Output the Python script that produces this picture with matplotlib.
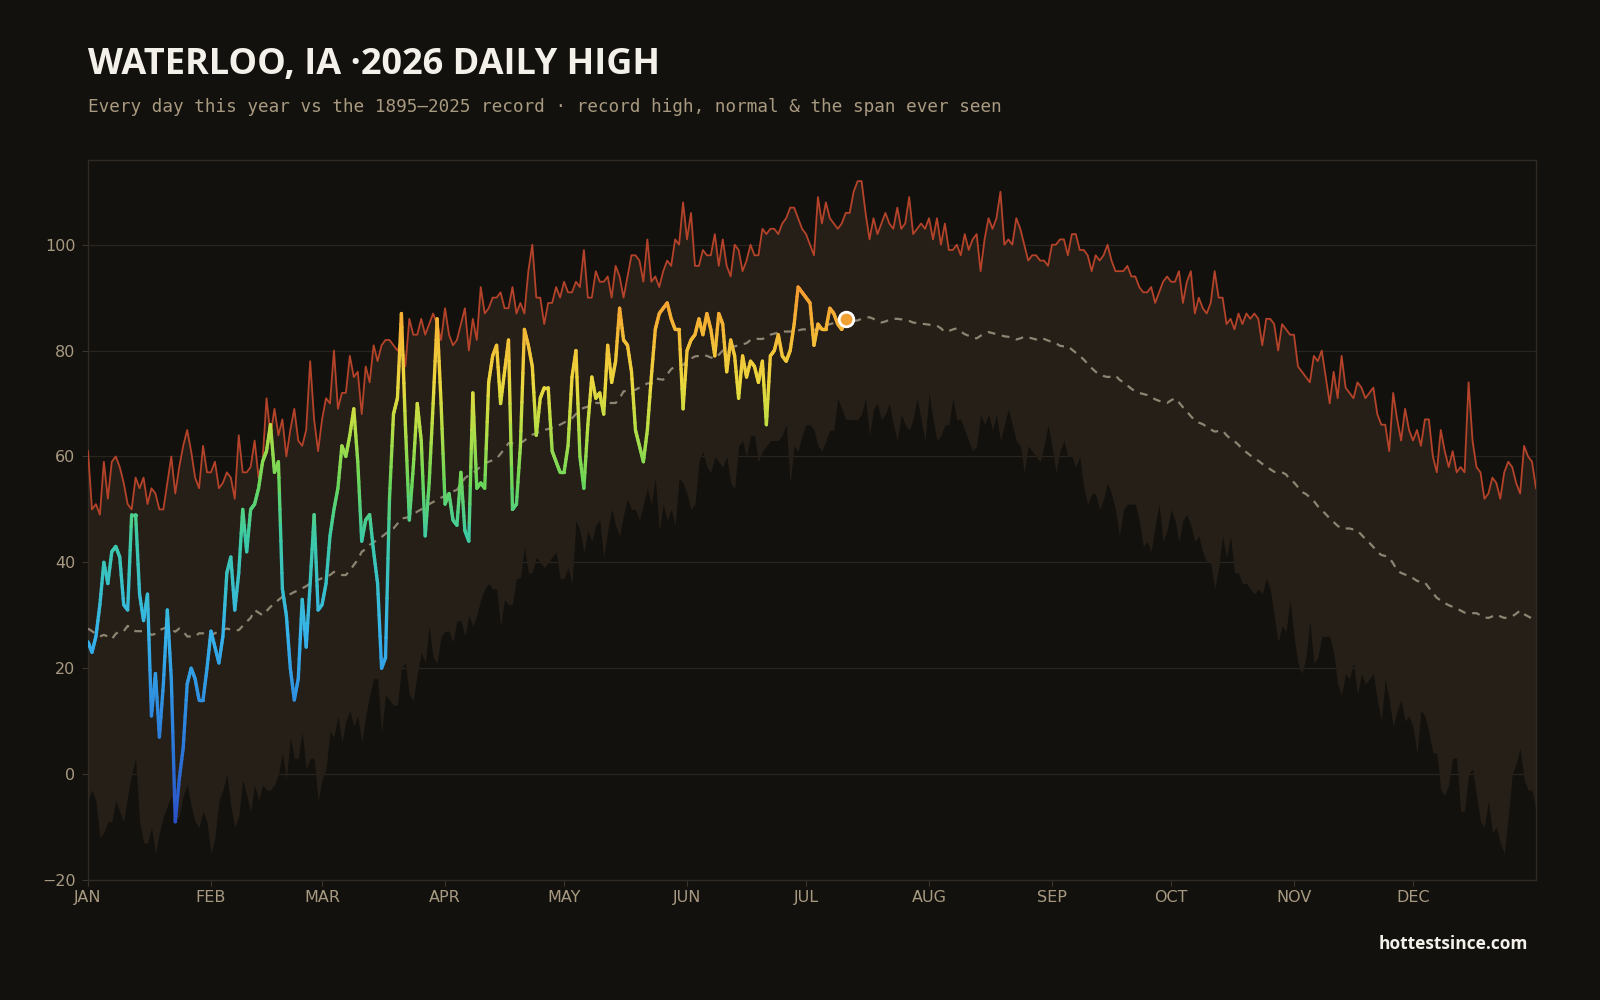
import numpy as np
import matplotlib
matplotlib.use("agg")
import matplotlib.pyplot as plt
from matplotlib.collections import LineCollection
from matplotlib.colors import LinearSegmentedColormap

# record high for each day of year (F)
record_high = [
    61, 50, 51, 49, 59, 52, 59, 60, 58, 55, 51, 50, 56, 54, 56, 51, 54, 53, 50, 50,
    55, 60, 53, 58, 62, 65, 61, 56, 54, 62, 57, 57, 59, 54, 55, 57, 56, 52, 64, 57,
    57, 58, 63, 56, 59, 71, 64, 69, 64, 67, 60, 65, 69, 63, 62, 65, 78, 67, 61, 67,
    71, 70, 80, 69, 72, 72, 79, 75, 76, 68, 77, 74, 81, 78, 81, 82, 82, 81, 80, 82,
    77, 86, 83, 83, 86, 83, 85, 87, 85, 82, 88, 83, 81, 82, 85, 88, 80, 86, 82, 92,
    87, 88, 90, 90, 91, 88, 88, 92, 87, 89, 87, 95, 100, 90, 90, 85, 89, 89, 92, 90,
    93, 91, 91, 93, 92, 99, 90, 90, 95, 93, 93, 94, 90, 96, 94, 90, 94, 98, 98, 97,
    93, 101, 93, 94, 92, 95, 97, 96, 101, 100, 108, 101, 106, 96, 96, 99, 98, 98, 102, 96,
    101, 96, 94, 100, 99, 95, 97, 100, 98, 98, 103, 102, 103, 103, 102, 104, 105, 107, 107, 105,
    103, 102, 100, 98, 109, 104, 108, 105, 104, 103, 104, 106, 106, 110, 112, 112, 106, 101, 105, 102,
    104, 106, 104, 103, 107, 103, 104, 109, 102, 103, 104, 103, 105, 101, 105, 100, 104, 99, 99, 100,
    98, 102, 99, 101, 102, 95, 101, 105, 103, 105, 110, 100, 101, 100, 105, 103, 100, 97, 98, 98,
    97, 97, 96, 100, 100, 101, 101, 98, 102, 102, 99, 99, 98, 95, 98, 97, 98, 100, 97, 95,
    95, 95, 96, 94, 94, 92, 91, 91, 92, 89, 91, 93, 94, 93, 93, 95, 89, 93, 95, 87,
    90, 88, 87, 89, 95, 90, 90, 85, 86, 84, 87, 85, 87, 86, 87, 86, 81, 86, 86, 85,
    80, 85, 84, 83, 83, 77, 76, 75, 74, 79, 78, 80, 75, 70, 76, 71, 79, 73, 72, 71,
    74, 73, 71, 72, 73, 68, 66, 66, 61, 72, 67, 63, 69, 65, 63, 65, 62, 67, 67, 60,
    57, 65, 61, 58, 61, 57, 58, 57, 74, 63, 58, 57, 52, 53, 56, 55, 52, 57, 59, 58,
    55, 53, 62, 60, 59, 54,
]

# lowest daily high ever seen (bottom of the span)
record_low = [
    -5, -3, -5, -12, -11, -9, -9, -5, -7, -9, -4, 0, 3, -9, -13, -13, -10, -15, -11, -8,
    -6, -4, -9, -8, -4, -2, -6, -9, -10, -7, -9, -15, -12, -5, -3, 0, -6, -10, -8, -1,
    -4, -7, -2, -5, -2, -3, -3, -2, 0, 4, -1, 7, 3, 3, 8, 1, 3, 3, -5, -1,
    1, 8, 7, 11, 6, 10, 12, 9, 11, 6, 11, 15, 18, 18, 8, 15, 14, 13, 13, 20,
    21, 15, 14, 19, 23, 21, 28, 22, 21, 26, 27, 27, 25, 29, 29, 26, 30, 28, 30, 33,
    35, 36, 35, 35, 28, 33, 32, 32, 37, 37, 43, 38, 38, 41, 40, 39, 40, 41, 42, 37,
    37, 39, 36, 48, 46, 42, 46, 44, 47, 48, 41, 46, 50, 47, 45, 49, 52, 50, 50, 48,
    51, 54, 51, 56, 46, 51, 48, 50, 47, 56, 55, 53, 50, 51, 59, 61, 58, 57, 60, 59,
    58, 60, 55, 54, 62, 63, 60, 64, 64, 59, 61, 62, 63, 63, 63, 64, 66, 55, 62, 61,
    64, 66, 66, 65, 62, 61, 63, 65, 65, 71, 69, 67, 67, 67, 67, 68, 71, 64, 69, 70,
    67, 68, 70, 66, 63, 68, 66, 65, 67, 71, 67, 63, 72, 67, 63, 64, 66, 66, 71, 67,
    67, 65, 63, 61, 62, 68, 66, 68, 65, 68, 63, 66, 69, 66, 63, 62, 57, 62, 61, 60,
    59, 62, 66, 62, 57, 61, 63, 60, 60, 58, 60, 54, 51, 53, 53, 50, 52, 55, 53, 50,
    45, 50, 51, 51, 51, 48, 43, 44, 42, 47, 51, 44, 46, 50, 48, 44, 48, 49, 47, 44,
    45, 42, 40, 40, 35, 39, 45, 41, 45, 38, 38, 36, 36, 35, 34, 35, 34, 37, 35, 30,
    25, 28, 27, 33, 26, 21, 19, 22, 29, 21, 22, 26, 26, 26, 23, 17, 15, 19, 18, 21,
    15, 19, 17, 18, 19, 14, 10, 18, 14, 9, 12, 14, 10, 11, 9, 4, 12, 11, 8, 4,
    4, -3, -4, -2, 3, 3, -7, -7, 0, 1, -4, -9, -10, -5, -11, -10, -13, -15, -8, 0,
    2, 5, -1, -3, -3, -7,
]

# 1895-2025 normal high
normal = [
    27.5, 27, 26.5, 26, 26.3, 26, 25.5, 26.5, 27, 27,
    28, 27.5, 27, 27, 27, 26.8, 26.3, 26.5, 27.2, 27.5,
    27.8, 27.3, 26.9, 27.5, 27, 26, 26, 26, 26.6, 26.6,
    26, 26.3, 26.6, 27, 27.2, 27.5, 27.3, 27.2, 27.2, 28,
    28.8, 29.5, 31, 30.5, 30, 30.8, 31.6, 32.2, 32.9, 33.5,
    33.8, 34, 34.4, 34.7, 35.1, 35.5, 36, 36.3, 36.7, 37,
    37.3, 37.6, 38.2, 37.9, 37.6, 37.6, 38.5, 39.5, 40.5, 42,
    42.5, 43.3, 43.8, 44.3, 44.8, 45.4, 46, 46.4, 47.3, 48.3,
    48.4, 48.6, 49, 49.6, 50, 50.5, 51, 51.4, 51.8, 52.2,
    52.6, 53, 53.4, 53.7, 54.8, 55.9, 56.5, 56.8, 57.5, 58.1,
    58.7, 59, 59.3, 59.6, 60.5, 61.5, 62.5, 62.5, 62.5, 62.5,
    63, 63.6, 64.1, 64.4, 64.7, 65, 65.2, 65.4, 65.6, 66,
    66.4, 66.8, 67.2, 68, 68.8, 69.2, 69.4, 69.8, 70.1, 70.1,
    70.1, 70.1, 70.1, 70.1, 71, 72.3, 72.4, 72.5, 72.6, 73,
    73.4, 73.8, 73.8, 74.8, 74.6, 74.5, 75.5, 76.5, 77, 77.2,
    77.3, 78, 78.5, 78.9, 79, 79.2, 79, 78.7, 78.5, 79.2,
    80, 80.3, 80.5, 80.8, 81, 81.2, 81.4, 82, 82.3, 82.2,
    82.2, 82.5, 83, 83.2, 83.4, 83.6, 83.6, 83.6, 83.6, 83.8,
    84, 84, 83.9, 83.9, 84, 84.5, 84.7, 85, 85.2, 85,
    85.5, 85.5, 85.6, 85.6, 85.7, 86, 86.2, 86.3, 86, 85.6,
    85.3, 85.5, 85.8, 86, 86, 85.9, 85.8, 85.6, 85.3, 85.2,
    85.1, 85, 84.9, 84.8, 84.7, 84.2, 83.5, 83.7, 84, 84.2,
    83.6, 83.1, 82.8, 82.5, 82.3, 82.8, 83.2, 83.5, 83.3, 83.1,
    82.9, 82.7, 82.6, 82.4, 82.1, 82.3, 82.6, 82.5, 82.3, 82.1,
    82.4, 82.2, 81.9, 81.6, 81.4, 80.9, 80.8, 80.8, 80.2, 79.6,
    79, 78.3, 77.5, 76.7, 76, 75.5, 75.2, 75, 75.1, 75.3,
    74.5, 74, 73.4, 72.8, 72.3, 72, 71.8, 71.6, 71.2, 70.8,
    70.5, 70.3, 70.1, 70.6, 71, 70.2, 69.3, 68.5, 67.6, 66.8,
    66.4, 66.1, 65.6, 65.1, 64.7, 64.8, 64.9, 64, 63.3, 62.9,
    62.2, 61.4, 60.8, 60.2, 59.7, 59.2, 58.6, 58.1, 57.6, 57.1,
    57, 57, 56.6, 55.6, 55.1, 54.2, 53.3, 52.9, 52.3, 51.6,
    50.6, 49.9, 49.1, 48.3, 47.6, 46.9, 46.4, 46.4, 46.4, 46.2,
    46, 45.2, 44.4, 43.7, 42.9, 42, 41.4, 41.2, 40.9, 39.8,
    38.5, 38, 37.7, 37.4, 37, 36.5, 36.3, 36.2, 35.2, 34.2,
    33.3, 32.8, 32.3, 31.9, 31.6, 31.3, 30.9, 30.5, 30.4, 30.4,
    30.4, 30, 29.6, 29.5, 29.8, 30.1, 29.8, 29.5, 29.6, 29.8,
    30.3, 30.9, 30.2, 29.8, 29.4, 29.1,
]

# 2026 daily highs so far (Jan 1 - Jul 11)
highs_2026 = [
    25, 23, 26, 32, 40, 36, 42, 43, 41, 32, 31, 49, 49, 34, 29, 34, 11, 19, 7, 17,
    31, 18, -9, -1, 5, 17, 20, 18, 14, 14, 20, 27, 24, 21, 26, 38, 41, 31, 38, 50,
    42, 50, 51, 54, 59, 61, 66, 57, 59, 35, 30, 20, 14, 18, 33, 24, 36, 49, 31, 32,
    36, 45, 50, 54, 62, 60, 64, 69, 59, 44, 48, 49, 42, 36, 20, 22, 52, 68, 71, 87,
    66, 48, 58, 70, 63, 45, 55, 70, 86, 70, 51, 53, 48, 47, 57, 46, 44, 72, 54, 55,
    54, 74, 79, 81, 70, 76, 82, 50, 51, 62, 84, 81, 77, 64, 71, 73, 73, 61, 59, 57,
    57, 62, 75, 80, 60, 54, 66, 75, 71, 72, 68, 81, 74, 78, 88, 82, 81, 76, 65, 62,
    59, 65, 75, 84, 87, 88, 89, 86, 84, 84, 69, 80, 82, 83, 86, 83, 87, 84, 79, 87,
    85, 76, 82, 79, 71, 79, 75, 78, 77, 74, 78, 66, 79, 80, 83, 79, 78, 80, 85, 92,
    91, 90, 89, 81, 85, 84, 84, 88, 87, 85, 84, 86,
]

month_starts = [0, 31, 59, 90, 120, 151, 181, 212, 243, 273, 304, 334]
month_names = ['JAN', 'FEB', 'MAR', 'APR', 'MAY', 'JUN',
               'JUL', 'AUG', 'SEP', 'OCT', 'NOV', 'DEC']
y_ticks = [-20, 0, 20, 40, 60, 80, 100]

bg = '#13110d'
band = '#251f18'
grid_c = '#2a241e'
tick_c = '#a89a82'

temp_cmap = LinearSegmentedColormap.from_list('temps', [
    (0.00, '#2a4fc4'),
    (0.17, '#2d7fdc'),
    (0.35, '#36b4ea'),
    (0.52, '#3ccaa8'),
    (0.62, '#6ad65a'),
    (0.72, '#b8de45'),
    (0.80, '#ecd83e'),
    (0.90, '#f5b535'),
    (1.00, '#f5902e'),
])
t_lo, t_hi = -10, 95

rec_hi = np.array(record_high, dtype=float)
rec_lo = np.array(record_low, dtype=float)
norm_hi = np.array(normal, dtype=float)
days = np.arange(len(rec_hi))
y26 = np.array(highs_2026, dtype=float)
d26 = np.arange(len(y26))

fig = plt.figure(figsize=(16, 10), dpi=100, facecolor=bg)
ax = fig.add_axes([0.055, 0.12, 0.905, 0.72])
ax.set_facecolor(bg)

ax.fill_between(days, rec_lo, rec_hi, color=band, lw=0, zorder=1)
ax.plot(days, rec_hi, color='#b4432a', lw=1.3, zorder=3)
ax.plot(days, norm_hi, color='#8d8472', lw=1.6, ls=(0, (3.5, 3)), zorder=3)

# 2026 line, each day segment split so colour follows the value
segs, cols = [], []
for i in range(len(y26) - 1):
    xs = np.linspace(d26[i], d26[i + 1], 9)
    ys = np.linspace(y26[i], y26[i + 1], 9)
    for k in range(8):
        segs.append([(xs[k], ys[k]), (xs[k + 1], ys[k + 1])])
        mid = (ys[k] + ys[k + 1]) / 2
        cols.append(temp_cmap((mid - t_lo) / (t_hi - t_lo)))
lc = LineCollection(segs, colors=cols, linewidths=2.4, capstyle='round',
                    joinstyle='round', zorder=4)
ax.add_collection(lc)

ax.scatter([d26[-1]], [y26[-1]], s=110, color='#f0a030',
           edgecolor='white', linewidth=2, zorder=5)

ax.set_xlim(0, 365)
ax.set_ylim(-20, 116)
ax.set_xticks(month_starts)
ax.set_xticklabels(month_names)
ax.set_yticks(y_ticks)
ax.grid(True, axis='y', color=grid_c, lw=0.9, zorder=0)
ax.set_axisbelow(True)
ax.tick_params(colors=tick_c, labelsize=11.5, length=4, width=0.8,
               color='#3a342c')
ax.tick_params(axis='x', pad=3)
ax.tick_params(axis='y', pad=5)
for sp in ax.spines.values():
    sp.set_color('#2f2a23')
    sp.set_linewidth(1.0)

fig.text(0.055, 0.935, 'WATERLOO, IA \u00b72026 DAILY HIGH', color='#f4f1ea',
         fontsize=26, fontweight='bold', family='Open Sans', va='center')
fig.text(0.055, 0.893,
         'Every day this year vs the 1895\u20132025 record \u00b7 record high, normal & the span ever seen',
         color='#a89a80', fontsize=12.7, family='DejaVu Sans Mono', va='center')
fig.text(0.955, 0.056, 'hottestsince.com', color='#f4f1ea', fontsize=12.5,
         fontweight='bold', family='Open Sans', ha='right', va='center')

fig.savefig('out.png', dpi=100, facecolor=bg)
